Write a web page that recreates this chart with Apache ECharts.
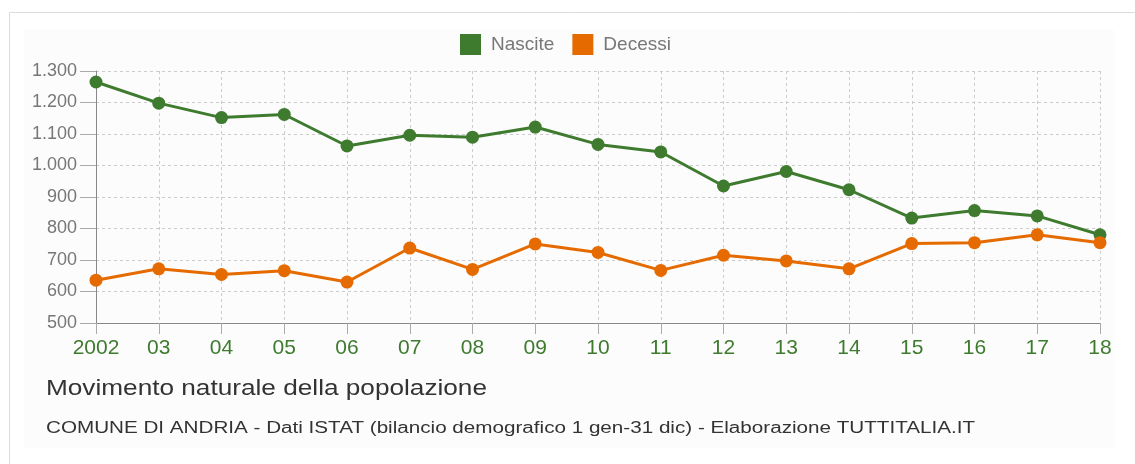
<!DOCTYPE html>
<html>
<head>
<meta charset="utf-8">
<script src="https://cdn.jsdelivr.net/npm/echarts@6/dist/echarts.min.js"></script>
<style>
  html, body {margin: 0; padding: 0; background: #fff;}
  #chart {width: 1135px; height: 464px;}
</style>
</head>
<body>
<div id="chart"></div>
<script>
// anni (etichette asse x)
var anni = ['2002', '03', '04', '05', '06', '07', '08', '09', '10', '11', '12', '13', '14', '15', '16', '17', '18'];
// nascite e decessi
var nascite = [1265, 1198, 1152, 1162, 1062, 1096, 1090, 1122, 1067, 1043, 935, 981, 923, 833, 857, 840, 780];
var decessi = [636, 672, 654, 666, 630, 738, 670, 751, 724, 667, 715, 697, 672, 752, 755, 780, 755];

var VERDE = '#3e7b2f';
var ARANCIO = '#e56b00';
var FONT = '"Liberation Sans", Arial, sans-serif';

var chart = echarts.init(document.getElementById('chart'));

function lineSeries(name, data, color) {
    return {
        name: name,
        type: 'line',
        data: data,
        symbol: 'circle',
        symbolSize: 13,
        lineStyle: {width: 3, color: color},
        itemStyle: {color: color},
        z: 3
    };
}

chart.setOption({
    animation: false,
    textStyle: {fontFamily: FONT},
    graphic: [
        {
            type: 'rect', z: -10, silent: true,
            shape: {x: 9.5, y: 12.5, width: 1140, height: 470},
            style: {fill: '#fff', stroke: '#dcdcdc', lineWidth: 1}
        },
        {
            type: 'rect', z: -9, silent: true,
            shape: {x: 24, y: 30, width: 1090, height: 418},
            style: {fill: '#fcfcfc'}
        },
        {
            // titolo (testo un po' piu' largo come nell'originale)
            type: 'text', x: 46, y: 389, scaleX: 1.19,
            style: {
                text: 'Movimento naturale della popolazione',
                font: '22px ' + FONT, fill: '#333',
                align: 'left', verticalAlign: 'middle'
            }
        },
        {
            type: 'text', x: 46, y: 428.5, scaleX: 1.29,
            style: {
                text: 'COMUNE DI ANDRIA - Dati ISTAT (bilancio demografico 1 gen-31 dic) - Elaborazione TUTTITALIA.IT',
                font: '16px ' + FONT, fill: '#333',
                align: 'left', verticalAlign: 'middle'
            }
        }
    ],
    legend: {
        top: 29,
        left: 455,
        itemWidth: 21,
        itemHeight: 21,
        itemGap: 18,
        icon: 'rect',
        textStyle: {fontSize: 19, color: '#777', fontFamily: FONT, padding: [0, 0, 0, 5]},
        data: ['Nascite', 'Decessi']
    },
    grid: {left: 96, right: 35, top: 71, bottom: 141},
    xAxis: {
        type: 'category',
        data: anni,
        boundaryGap: false,
        axisLine: {lineStyle: {color: '#888', width: 1}},
        axisTick: {show: true, length: 11, lineStyle: {color: '#aaa'}},
        axisLabel: {color: VERDE, fontSize: 21, margin: 15, fontFamily: FONT},
        splitLine: {show: true, lineStyle: {color: '#ccc', type: [3, 3]}}
    },
    yAxis: {
        type: 'value',
        min: 500,
        max: 1300,
        interval: 100,
        axisLine: {show: true, lineStyle: {color: '#888'}},
        axisTick: {show: true, length: 16, lineStyle: {color: '#aaa'}},
        axisLabel: {
            color: '#777', fontSize: 18, margin: 19, fontFamily: FONT,
            formatter: function (v) {
                return String(v).replace(/\B(?=(\d{3})+(?!\d))/g, '.');
            }
        },
        splitLine: {show: true, lineStyle: {color: '#ccc', type: [3, 3]}}
    },
    series: [
        lineSeries('Nascite', nascite, VERDE),
        lineSeries('Decessi', decessi, ARANCIO)
    ]
});
</script>
</body>
</html>
